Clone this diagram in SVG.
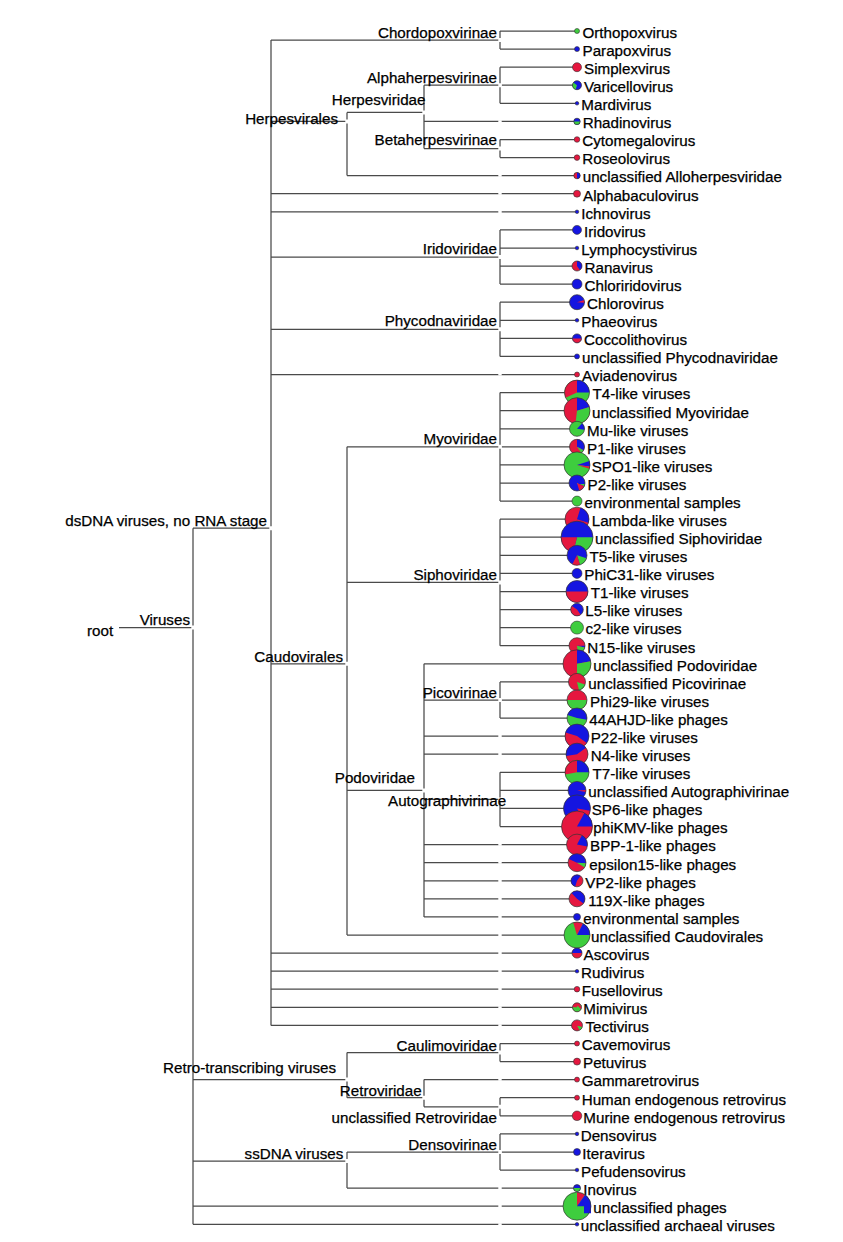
<svg xmlns="http://www.w3.org/2000/svg" width="843" height="1242" viewBox="0 0 843 1242">
<style>
.ln{fill:none;stroke:#4a4a4a;stroke-width:1.25}
.gp{fill:#fff}
text{font-family:"Liberation Sans",Arial,sans-serif;font-size:15.2px;fill:#000;stroke:#000;stroke-width:0.25}
.e{text-anchor:end}
.R{fill:#e5173f}.B{fill:#1515e0}.G{fill:#3ecd3e}
.d{stroke:#333;stroke-width:0.6}
.s{fill:none}.sR{stroke:#e5173f}.sB{stroke:#1515e0}.sG{stroke:#3ecd3e}
.o{fill:none;stroke:#333;stroke-width:0.7}
</style>
<rect width="843" height="1242" fill="#fff"/>
<g id="connectors">
<g class="ln">
<path d="M119 627.6H193M193 528.2V1224.3M193 528.2H271M193 1079.6H347M193 1161.1H347M193 1206.2H577M193 1224.3H577"/>
<path d="M271 40V1025.4M271 40H500M271 121.4H347M271 193.7H577M271 211.8H577M271 257H500M271 329.3H500M271 374.5H577M271 663.8H347M271 953.1H577M271 971.2H577M271 989.2H577M271 1007.3H577M271 1025.4H577"/>
<path d="M500 31V49.1M500 31H577M500 49.1H577"/>
<path d="M347 112.4V175.6M347 112.4H424M347 175.6H577M424 85.2V148.5M424 85.2H500M424 121.4H577M424 148.5H500"/>
<path d="M500 67.2V103.3M500 67.2H577M500 85.2H577M500 103.3H577M500 139.5V157.6M500 139.5H577M500 157.6H577"/>
<path d="M500 229.9V284.1M500 229.9H577M500 248H577M500 266H577M500 284.1H577M500 302.2V356.4M500 302.2H577M500 320.3H577M500 338.4H577M500 356.4H577"/>
<path d="M347 446.8V935M347 446.8H500M347 582.4H500M347 790.4H424M347 935H577"/>
<path d="M500 392.6V501.1M500 392.6H577M500 410.7H577M500 428.8H577M500 446.8H577M500 464.9H577M500 483H577M500 501.1H577"/>
<path d="M500 519.2V645.7M500 519.2H577M500 537.2H577M500 555.3H577M500 573.4H577M500 591.5H577M500 609.6H577M500 627.6H577M500 645.7H577"/>
<path d="M424 663.8V916.9M424 663.8H577M424 700H500M424 736.1H577M424 754.2H577M424 799.4H500M424 844.6H577M424 862.7H577M424 880.8H577M424 898.8H577M424 916.9H577"/>
<path d="M500 681.9V718M500 681.9H577M500 700H577M500 718H577M500 772.3V826.5M500 772.3H577M500 790.4H577M500 808.4H577M500 826.5H577"/>
<path d="M347 1052.5V1097.7M347 1052.5H500M347 1097.7H424M500 1043.5V1061.6M500 1043.5H577M500 1061.6H577M424 1079.6V1106.8M424 1079.6H577M424 1106.8H500M500 1097.7V1115.8M500 1097.7H577M500 1115.8H577"/>
<path d="M347 1152V1188.1M347 1152H500M347 1188.1H577M500 1133.9V1170M500 1133.9H577M500 1152H577M500 1170H577"/>
</g>
<path class="gp" d="M498.3 120.3h3.4v2.2h-3.4zM498.3 174.5h3.4v2.2h-3.4zM498.3 192.6h3.4v2.2h-3.4zM498.3 210.7h3.4v2.2h-3.4zM498.3 373.4h3.4v2.2h-3.4zM498.3 735h3.4v2.2h-3.4zM498.3 753.1h3.4v2.2h-3.4zM498.3 843.5h3.4v2.2h-3.4zM498.3 861.6h3.4v2.2h-3.4zM498.3 879.7h3.4v2.2h-3.4zM498.3 897.7h3.4v2.2h-3.4zM498.3 915.8h3.4v2.2h-3.4zM498.3 933.9h3.4v2.2h-3.4zM498.3 952h3.4v2.2h-3.4zM498.3 970.1h3.4v2.2h-3.4zM498.3 988.1h3.4v2.2h-3.4zM498.3 1006.2h3.4v2.2h-3.4zM498.3 1024.3h3.4v2.2h-3.4zM498.3 1078.5h3.4v2.2h-3.4zM498.3 1187h3.4v2.2h-3.4zM498.3 1205.1h3.4v2.2h-3.4zM498.3 1223.2h3.4v2.2h-3.4z"/>
<path class="gp" d="M498.3 38h3.6v4h-3.6zM345.3 119.4h3.6v4h-3.6zM422.3 110.4h3.6v4h-3.6zM498.3 83.2h3.6v4h-3.6zM498.3 146.5h3.6v4h-3.6zM498.3 255h3.6v4h-3.6zM498.3 327.3h3.6v4h-3.6zM345.3 661.8h3.6v4h-3.6zM498.3 444.8h3.6v4h-3.6zM498.3 580.4h3.6v4h-3.6zM422.3 788.4h3.6v4h-3.6zM498.3 698h3.6v4h-3.6zM498.3 797.4h3.6v4h-3.6zM345.3 1077.6h3.6v4h-3.6zM498.3 1050.5h3.6v4h-3.6zM422.3 1095.7h3.6v4h-3.6zM498.3 1104.8h3.6v4h-3.6zM345.3 1159.1h3.6v4h-3.6zM498.3 1150h3.6v4h-3.6zM191.3 625.6h3.6v4h-3.6zM269.3 526.2h3.6v4h-3.6z"/>
</g>
<g id="n-root"><text x="87" y="636">root</text></g>
<g id="n-viruses"><text class="e" x="190" y="625">Viruses</text></g>
<g id="n-dsdna"><text class="e" x="267" y="526">dsDNA viruses, no RNA stage</text></g>
<g id="n-chordopoxvirinae"><text class="e" x="497" y="37.5">Chordopoxvirinae</text></g>
<g id="n-herpesvirales"><text class="e" x="338" y="124">Herpesvirales</text></g>
<g id="n-herpesviridae"><text class="e" x="425.5" y="105">Herpesviridae</text></g>
<g id="n-alphaherpesvirinae"><text class="e" x="497" y="82.7">Alphaherpesvirinae</text></g>
<g id="n-betaherpesvirinae"><text class="e" x="497" y="145">Betaherpesvirinae</text></g>
<g id="n-iridoviridae"><text class="e" x="497" y="254">Iridoviridae</text></g>
<g id="n-phycodnaviridae"><text class="e" x="497" y="326">Phycodnaviridae</text></g>
<g id="n-caudovirales"><text class="e" x="343" y="661.5">Caudovirales</text></g>
<g id="n-myoviridae"><text class="e" x="497" y="443.5">Myoviridae</text></g>
<g id="n-siphoviridae"><text class="e" x="497" y="579.5">Siphoviridae</text></g>
<g id="n-podoviridae"><text class="e" x="415" y="783">Podoviridae</text></g>
<g id="n-picovirinae"><text class="e" x="497" y="698">Picovirinae</text></g>
<g id="n-autographivirinae"><text x="388" y="806">Autographivirinae</text></g>
<g id="n-retrotranscribing"><text x="163" y="1073">Retro-transcribing viruses</text></g>
<g id="n-caulimoviridae"><text class="e" x="497" y="1050.5">Caulimoviridae</text></g>
<g id="n-retroviridae"><text class="e" x="421.7" y="1096">Retroviridae</text></g>
<g id="n-unclassified-retroviridae"><text class="e" x="497" y="1123">unclassified Retroviridae</text></g>
<g id="n-ssdna"><text class="e" x="343.3" y="1159">ssDNA viruses</text></g>
<g id="n-densovirinae"><text class="e" x="497" y="1150">Densovirinae</text></g>

<g id="l-orthopoxvirus"><circle class="G d" cx="577" cy="31" r="2.5"/><text x="582.5" y="37.8">Orthopoxvirus</text></g>
<g id="l-parapoxvirus"><circle class="B d" cx="577" cy="49.1" r="2.5"/><text x="582.5" y="55.9">Parapoxvirus</text></g>
<g id="l-simplexvirus"><circle class="R d" cx="577" cy="67.2" r="4.5"/><text x="584" y="74">Simplexvirus</text></g>
<g id="l-varicellovirus"><circle class="B" cx="577" cy="85.2" r="4.5"/><circle class="s sG" cx="577" cy="85.2" r="2.25" stroke-width="4.5" pathLength="100" stroke-dasharray="30 100" stroke-dashoffset="-55" transform="rotate(-90 577 85.2)"/><circle class="o" cx="577" cy="85.2" r="4.5"/><text x="584" y="92">Varicellovirus</text></g>
<g id="l-mardivirus"><circle class="B d" cx="577" cy="103.3" r="1.8"/><text x="581.3" y="110.1">Mardivirus</text></g>
<g id="l-rhadinovirus"><circle class="B" cx="577" cy="121.4" r="3.2"/><circle class="s sG" cx="577" cy="121.4" r="1.6" stroke-width="3.2" pathLength="100" stroke-dasharray="50 100" stroke-dashoffset="-25" transform="rotate(-90 577 121.4)"/><circle class="o" cx="577" cy="121.4" r="3.2"/><text x="582.7" y="128.2">Rhadinovirus</text></g>
<g id="l-cytomegalovirus"><circle class="R d" cx="577" cy="139.5" r="2.8"/><text x="582.3" y="146.3">Cytomegalovirus</text></g>
<g id="l-roseolovirus"><circle class="R d" cx="577" cy="157.6" r="2.8"/><text x="582.3" y="164.4">Roseolovirus</text></g>
<g id="l-unclassified-alloherpesviridae"><circle class="R" cx="577" cy="175.6" r="3.2"/><circle class="s sB" cx="577" cy="175.6" r="1.6" stroke-width="3.2" pathLength="100" stroke-dasharray="50 100" stroke-dashoffset="0" transform="rotate(-90 577 175.6)"/><circle class="o" cx="577" cy="175.6" r="3.2"/><text x="582.7" y="182.4">unclassified Alloherpesviridae</text></g>
<g id="l-alphabaculovirus"><circle class="R d" cx="577" cy="193.7" r="3.5"/><text x="583" y="200.5">Alphabaculovirus</text></g>
<g id="l-ichnovirus"><circle class="B d" cx="577" cy="211.8" r="1.8"/><text x="581.3" y="218.6">Ichnovirus</text></g>
<g id="l-iridovirus"><circle class="B d" cx="577" cy="229.9" r="4.5"/><text x="584" y="236.7">Iridovirus</text></g>
<g id="l-lymphocystivirus"><circle class="B d" cx="577" cy="248" r="1.8"/><text x="581.3" y="254.8">Lymphocystivirus</text></g>
<g id="l-ranavirus"><circle class="R" cx="577" cy="266" r="5"/><circle class="s sB" cx="577" cy="266" r="2.5" stroke-width="5" pathLength="100" stroke-dasharray="40 100" stroke-dashoffset="0" transform="rotate(-90 577 266)"/><circle class="o" cx="577" cy="266" r="5"/><text x="584.5" y="272.8">Ranavirus</text></g>
<g id="l-chloriridovirus"><circle class="B d" cx="577" cy="284.1" r="5"/><text x="584.5" y="290.9">Chloriridovirus</text></g>
<g id="l-chlorovirus"><circle class="B" cx="577" cy="302.2" r="7.5"/><circle class="s sR" cx="577" cy="302.2" r="3.75" stroke-width="7.5" pathLength="100" stroke-dasharray="6 100" stroke-dashoffset="-20" transform="rotate(-90 577 302.2)"/><circle class="o" cx="577" cy="302.2" r="7.5"/><text x="587" y="309">Chlorovirus</text></g>
<g id="l-phaeovirus"><circle class="B d" cx="577" cy="320.3" r="1.8"/><text x="581.3" y="327.1">Phaeovirus</text></g>
<g id="l-coccolithovirus"><circle class="B" cx="577" cy="338.4" r="4.5"/><circle class="s sR" cx="577" cy="338.4" r="2.25" stroke-width="4.5" pathLength="100" stroke-dasharray="50 100" stroke-dashoffset="-25" transform="rotate(-90 577 338.4)"/><circle class="o" cx="577" cy="338.4" r="4.5"/><text x="584" y="345.2">Coccolithovirus</text></g>
<g id="l-unclassified-phycodnaviridae"><circle class="B d" cx="577" cy="356.4" r="2.5"/><text x="582" y="363.2">unclassified Phycodnaviridae</text></g>
<g id="l-aviadenovirus"><circle class="R d" cx="577" cy="374.5" r="2.5"/><text x="582" y="381.3">Aviadenovirus</text></g>
<g id="l-t4-like"><circle class="G" cx="577" cy="392.6" r="12.5"/><circle class="s sB" cx="577" cy="392.6" r="6.25" stroke-width="12.5" pathLength="100" stroke-dasharray="25 100" stroke-dashoffset="0" transform="rotate(-90 577 392.6)"/><circle class="s sR" cx="577" cy="392.6" r="6.25" stroke-width="12.5" pathLength="100" stroke-dasharray="32 100" stroke-dashoffset="-68" transform="rotate(-90 577 392.6)"/><circle class="o" cx="577" cy="392.6" r="12.5"/><text x="592.5" y="399.4">T4-like viruses</text></g>
<g id="l-unclassified-myoviridae"><circle class="R" cx="577" cy="410.7" r="13"/><circle class="s sB" cx="577" cy="410.7" r="6.5" stroke-width="13" pathLength="100" stroke-dasharray="20 100" stroke-dashoffset="0" transform="rotate(-90 577 410.7)"/><circle class="s sG" cx="577" cy="410.7" r="6.5" stroke-width="13" pathLength="100" stroke-dasharray="32 100" stroke-dashoffset="-20" transform="rotate(-90 577 410.7)"/><circle class="o" cx="577" cy="410.7" r="13"/><text x="592" y="417.5">unclassified Myoviridae</text></g>
<g id="l-mu-like"><circle class="G" cx="577" cy="428.8" r="7.5"/><circle class="s sB" cx="577" cy="428.8" r="3.75" stroke-width="7.5" pathLength="100" stroke-dasharray="15 100" stroke-dashoffset="-12" transform="rotate(-90 577 428.8)"/><circle class="o" cx="577" cy="428.8" r="7.5"/><text x="587" y="435.6">Mu-like viruses</text></g>
<g id="l-p1-like"><circle class="R" cx="577" cy="446.8" r="7.5"/><circle class="s sB" cx="577" cy="446.8" r="3.75" stroke-width="7.5" pathLength="100" stroke-dasharray="33 100" stroke-dashoffset="0" transform="rotate(-90 577 446.8)"/><circle class="s sG" cx="577" cy="446.8" r="3.75" stroke-width="7.5" pathLength="100" stroke-dasharray="7 100" stroke-dashoffset="-33" transform="rotate(-90 577 446.8)"/><circle class="o" cx="577" cy="446.8" r="7.5"/><text x="587" y="453.6">P1-like viruses</text></g>
<g id="l-spo1-like"><circle class="G" cx="577" cy="464.9" r="13"/><circle class="s sB" cx="577" cy="464.9" r="6.5" stroke-width="13" pathLength="100" stroke-dasharray="7 100" stroke-dashoffset="-20" transform="rotate(-90 577 464.9)"/><circle class="s sR" cx="577" cy="464.9" r="6.5" stroke-width="13" pathLength="100" stroke-dasharray="3 100" stroke-dashoffset="-27" transform="rotate(-90 577 464.9)"/><circle class="o" cx="577" cy="464.9" r="13"/><text x="591.7" y="471.7">SPO1-like viruses</text></g>
<g id="l-p2-like"><circle class="B" cx="577" cy="483" r="8"/><circle class="s sG" cx="577" cy="483" r="4" stroke-width="8" pathLength="100" stroke-dasharray="5 100" stroke-dashoffset="-27" transform="rotate(-90 577 483)"/><circle class="s sR" cx="577" cy="483" r="4" stroke-width="8" pathLength="100" stroke-dasharray="13 100" stroke-dashoffset="-32" transform="rotate(-90 577 483)"/><circle class="o" cx="577" cy="483" r="8"/><text x="587.5" y="489.8">P2-like viruses</text></g>
<g id="l-myo-environmental-samples"><circle class="G d" cx="577" cy="501.1" r="5"/><text x="584.5" y="507.9">environmental samples</text></g>
<g id="l-lambda-like"><circle class="R" cx="577" cy="519.2" r="12"/><circle class="s sB" cx="577" cy="519.2" r="6" stroke-width="12" pathLength="100" stroke-dasharray="25 100" stroke-dashoffset="-5" transform="rotate(-90 577 519.2)"/><circle class="o" cx="577" cy="519.2" r="12"/><text x="591.7" y="526">Lambda-like viruses</text></g>
<g id="l-unclassified-siphoviridae"><circle class="B" cx="577" cy="537.2" r="16"/><circle class="s sG" cx="577" cy="537.2" r="8" stroke-width="16" pathLength="100" stroke-dasharray="29 100" stroke-dashoffset="-25" transform="rotate(-90 577 537.2)"/><circle class="s sR" cx="577" cy="537.2" r="8" stroke-width="16" pathLength="100" stroke-dasharray="21 100" stroke-dashoffset="-54" transform="rotate(-90 577 537.2)"/><circle class="o" cx="577" cy="537.2" r="16"/><text x="595" y="544">unclassified Siphoviridae</text></g>
<g id="l-t5-like"><circle class="B" cx="577" cy="555.3" r="10"/><circle class="s sG" cx="577" cy="555.3" r="5" stroke-width="10" pathLength="100" stroke-dasharray="15 100" stroke-dashoffset="-30" transform="rotate(-90 577 555.3)"/><circle class="s sR" cx="577" cy="555.3" r="5" stroke-width="10" pathLength="100" stroke-dasharray="13 100" stroke-dashoffset="-45" transform="rotate(-90 577 555.3)"/><circle class="o" cx="577" cy="555.3" r="10"/><text x="589.5" y="562.1">T5-like viruses</text></g>
<g id="l-phic31-like"><circle class="B d" cx="577" cy="573.4" r="5"/><text x="584.3" y="580.2">PhiC31-like viruses</text></g>
<g id="l-t1-like"><circle class="B" cx="577" cy="591.5" r="11"/><circle class="s sR" cx="577" cy="591.5" r="5.5" stroke-width="11" pathLength="100" stroke-dasharray="50 100" stroke-dashoffset="-25" transform="rotate(-90 577 591.5)"/><circle class="o" cx="577" cy="591.5" r="11"/><text x="590.7" y="598.3">T1-like viruses</text></g>
<g id="l-l5-like"><circle class="B" cx="577" cy="609.6" r="6.3"/><circle class="s sR" cx="577" cy="609.6" r="3.15" stroke-width="6.3" pathLength="100" stroke-dasharray="45 100" stroke-dashoffset="-40" transform="rotate(-90 577 609.6)"/><circle class="o" cx="577" cy="609.6" r="6.3"/><text x="585.3" y="616.4">L5-like viruses</text></g>
<g id="l-c2-like"><circle class="G d" cx="577" cy="627.6" r="6.5"/><text x="585.5" y="634.4">c2-like viruses</text></g>
<g id="l-n15-like"><circle class="R" cx="577" cy="645.7" r="8"/><circle class="s sB" cx="577" cy="645.7" r="4" stroke-width="8" pathLength="100" stroke-dasharray="4 100" stroke-dashoffset="-25" transform="rotate(-90 577 645.7)"/><circle class="s sG" cx="577" cy="645.7" r="4" stroke-width="8" pathLength="100" stroke-dasharray="19 100" stroke-dashoffset="-29" transform="rotate(-90 577 645.7)"/><circle class="o" cx="577" cy="645.7" r="8"/><text x="587.3" y="652.5">N15-like viruses</text></g>
<g id="l-unclassified-podoviridae"><circle class="R" cx="577" cy="663.8" r="14"/><circle class="s sB" cx="577" cy="663.8" r="7" stroke-width="14" pathLength="100" stroke-dasharray="22 100" stroke-dashoffset="0" transform="rotate(-90 577 663.8)"/><circle class="s sG" cx="577" cy="663.8" r="7" stroke-width="14" pathLength="100" stroke-dasharray="28 100" stroke-dashoffset="-22" transform="rotate(-90 577 663.8)"/><circle class="o" cx="577" cy="663.8" r="14"/><text x="593.3" y="670.6">unclassified Podoviridae</text></g>
<g id="l-unclassified-picovirinae"><circle class="R" cx="577" cy="681.9" r="8.5"/><circle class="s sG" cx="577" cy="681.9" r="4.25" stroke-width="8.5" pathLength="100" stroke-dasharray="16 100" stroke-dashoffset="-30" transform="rotate(-90 577 681.9)"/><circle class="o" cx="577" cy="681.9" r="8.5"/><text x="588.3" y="688.7">unclassified Picovirinae</text></g>
<g id="l-phi29-like"><circle class="R" cx="577" cy="700" r="10"/><circle class="s sG" cx="577" cy="700" r="5" stroke-width="10" pathLength="100" stroke-dasharray="50 100" stroke-dashoffset="-25" transform="rotate(-90 577 700)"/><circle class="o" cx="577" cy="700" r="10"/><text x="590" y="706.8">Phi29-like viruses</text></g>
<g id="l-44ahjd-like"><circle class="G" cx="577" cy="718" r="10"/><circle class="s sB" cx="577" cy="718" r="5" stroke-width="10" pathLength="100" stroke-dasharray="28 100" stroke-dashoffset="0" transform="rotate(-90 577 718)"/><circle class="s sB" cx="577" cy="718" r="5" stroke-width="10" pathLength="100" stroke-dasharray="20 100" stroke-dashoffset="-80" transform="rotate(-90 577 718)"/><circle class="o" cx="577" cy="718" r="10"/><text x="589.3" y="724.8">44AHJD-like phages</text></g>
<g id="l-p22-like"><circle class="B" cx="577" cy="736.1" r="12"/><circle class="s sR" cx="577" cy="736.1" r="6" stroke-width="12" pathLength="100" stroke-dasharray="45 100" stroke-dashoffset="-35" transform="rotate(-90 577 736.1)"/><circle class="o" cx="577" cy="736.1" r="12"/><text x="590.7" y="742.9">P22-like viruses</text></g>
<g id="l-n4-like"><circle class="R" cx="577" cy="754.2" r="11"/><circle class="s sB" cx="577" cy="754.2" r="5.5" stroke-width="11" pathLength="100" stroke-dasharray="15 100" stroke-dashoffset="0" transform="rotate(-90 577 754.2)"/><circle class="s sB" cx="577" cy="754.2" r="5.5" stroke-width="11" pathLength="100" stroke-dasharray="28 100" stroke-dashoffset="-72" transform="rotate(-90 577 754.2)"/><circle class="o" cx="577" cy="754.2" r="11"/><text x="590.7" y="761">N4-like viruses</text></g>
<g id="l-t7-like"><circle class="G" cx="577" cy="772.3" r="12"/><circle class="s sB" cx="577" cy="772.3" r="6" stroke-width="12" pathLength="100" stroke-dasharray="25 100" stroke-dashoffset="0" transform="rotate(-90 577 772.3)"/><circle class="s sR" cx="577" cy="772.3" r="6" stroke-width="12" pathLength="100" stroke-dasharray="28 100" stroke-dashoffset="-72" transform="rotate(-90 577 772.3)"/><circle class="o" cx="577" cy="772.3" r="12"/><text x="592.5" y="779.1">T7-like viruses</text></g>
<g id="l-unclassified-autographivirinae"><circle class="B" cx="577" cy="790.4" r="9"/><circle class="s sR" cx="577" cy="790.4" r="4.5" stroke-width="9" pathLength="100" stroke-dasharray="4 100" stroke-dashoffset="-24" transform="rotate(-90 577 790.4)"/><circle class="o" cx="577" cy="790.4" r="9"/><text x="588.3" y="797.2">unclassified Autographivirinae</text></g>
<g id="l-sp6-like"><circle class="B" cx="577" cy="808.4" r="13.5"/><circle class="s sR" cx="577" cy="808.4" r="6.75" stroke-width="13.5" pathLength="100" stroke-dasharray="14 100" stroke-dashoffset="-28" transform="rotate(-90 577 808.4)"/><circle class="o" cx="577" cy="808.4" r="13.5"/><text x="591.7" y="815.2">SP6-like phages</text></g>
<g id="l-phikmv-like"><circle class="R" cx="577" cy="826.5" r="15.5"/><circle class="s sB" cx="577" cy="826.5" r="7.75" stroke-width="15.5" pathLength="100" stroke-dasharray="17 100" stroke-dashoffset="-8" transform="rotate(-90 577 826.5)"/><circle class="o" cx="577" cy="826.5" r="15.5"/><text x="593.3" y="833.3">phiKMV-like phages</text></g>
<g id="l-bpp1-like"><circle class="R" cx="577" cy="844.6" r="10.5"/><circle class="s sB" cx="577" cy="844.6" r="5.25" stroke-width="10.5" pathLength="100" stroke-dasharray="20 100" stroke-dashoffset="-8" transform="rotate(-90 577 844.6)"/><circle class="o" cx="577" cy="844.6" r="10.5"/><text x="590" y="851.4">BPP-1-like phages</text></g>
<g id="l-epsilon15-like"><circle class="R" cx="577" cy="862.7" r="9"/><circle class="s sB" cx="577" cy="862.7" r="4.5" stroke-width="9" pathLength="100" stroke-dasharray="26 100" stroke-dashoffset="0" transform="rotate(-90 577 862.7)"/><circle class="s sG" cx="577" cy="862.7" r="4.5" stroke-width="9" pathLength="100" stroke-dasharray="8 100" stroke-dashoffset="-26" transform="rotate(-90 577 862.7)"/><circle class="s sB" cx="577" cy="862.7" r="4.5" stroke-width="9" pathLength="100" stroke-dasharray="18 100" stroke-dashoffset="-82" transform="rotate(-90 577 862.7)"/><circle class="o" cx="577" cy="862.7" r="9"/><text x="589.3" y="869.5">epsilon15-like phages</text></g>
<g id="l-vp2-like"><circle class="R" cx="577" cy="880.8" r="6"/><circle class="s sB" cx="577" cy="880.8" r="3" stroke-width="6" pathLength="100" stroke-dasharray="10 100" stroke-dashoffset="0" transform="rotate(-90 577 880.8)"/><circle class="s sB" cx="577" cy="880.8" r="3" stroke-width="6" pathLength="100" stroke-dasharray="45 100" stroke-dashoffset="-55" transform="rotate(-90 577 880.8)"/><circle class="o" cx="577" cy="880.8" r="6"/><text x="585.3" y="887.6">VP2-like phages</text></g>
<g id="l-119x-like"><circle class="R" cx="577" cy="898.8" r="8"/><circle class="s sB" cx="577" cy="898.8" r="4" stroke-width="8" pathLength="100" stroke-dasharray="35 100" stroke-dashoffset="0" transform="rotate(-90 577 898.8)"/><circle class="s sB" cx="577" cy="898.8" r="4" stroke-width="8" pathLength="100" stroke-dasharray="12 100" stroke-dashoffset="-88" transform="rotate(-90 577 898.8)"/><circle class="o" cx="577" cy="898.8" r="8"/><text x="588.3" y="905.6">119X-like phages</text></g>
<g id="l-podo-environmental-samples"><circle class="B d" cx="577" cy="916.9" r="3.5"/><text x="583.3" y="923.7">environmental samples</text></g>
<g id="l-unclassified-caudovirales"><circle class="G" cx="577" cy="935" r="13"/><circle class="s sR" cx="577" cy="935" r="6.5" stroke-width="13" pathLength="100" stroke-dasharray="8 100" stroke-dashoffset="0" transform="rotate(-90 577 935)"/><circle class="s sB" cx="577" cy="935" r="6.5" stroke-width="13" pathLength="100" stroke-dasharray="17 100" stroke-dashoffset="-8" transform="rotate(-90 577 935)"/><circle class="s sR" cx="577" cy="935" r="6.5" stroke-width="13" pathLength="100" stroke-dasharray="5 100" stroke-dashoffset="-95" transform="rotate(-90 577 935)"/><circle class="o" cx="577" cy="935" r="13"/><text x="591" y="941.8">unclassified Caudovirales</text></g>
<g id="l-ascovirus"><circle class="R" cx="577" cy="953.1" r="5"/><circle class="s sB" cx="577" cy="953.1" r="2.5" stroke-width="5" pathLength="100" stroke-dasharray="25 100" stroke-dashoffset="0" transform="rotate(-90 577 953.1)"/><circle class="s sB" cx="577" cy="953.1" r="2.5" stroke-width="5" pathLength="100" stroke-dasharray="25 100" stroke-dashoffset="-75" transform="rotate(-90 577 953.1)"/><circle class="o" cx="577" cy="953.1" r="5"/><text x="583.5" y="959.9">Ascovirus</text></g>
<g id="l-rudivirus"><circle class="B d" cx="577" cy="971.2" r="1.8"/><text x="581" y="978">Rudivirus</text></g>
<g id="l-fusellovirus"><circle class="R d" cx="577" cy="989.2" r="2.8"/><text x="581.7" y="996">Fusellovirus</text></g>
<g id="l-mimivirus"><circle class="R" cx="577" cy="1007.3" r="4.5"/><circle class="s sG" cx="577" cy="1007.3" r="2.25" stroke-width="4.5" pathLength="100" stroke-dasharray="50 100" stroke-dashoffset="-25" transform="rotate(-90 577 1007.3)"/><circle class="o" cx="577" cy="1007.3" r="4.5"/><text x="583.3" y="1014.1">Mimivirus</text></g>
<g id="l-tectivirus"><circle class="R" cx="577" cy="1025.4" r="5.5"/><circle class="s sG" cx="577" cy="1025.4" r="2.75" stroke-width="5.5" pathLength="100" stroke-dasharray="12 100" stroke-dashoffset="-30" transform="rotate(-90 577 1025.4)"/><circle class="o" cx="577" cy="1025.4" r="5.5"/><text x="585.5" y="1032.2">Tectivirus</text></g>
<g id="l-cavemovirus"><circle class="R d" cx="577" cy="1043.5" r="2.5"/><text x="581.7" y="1050.3">Cavemovirus</text></g>
<g id="l-petuvirus"><circle class="R d" cx="577" cy="1061.6" r="3.5"/><text x="583" y="1068.4">Petuvirus</text></g>
<g id="l-gammaretrovirus"><circle class="R d" cx="577" cy="1079.6" r="2.5"/><text x="581.7" y="1086.4">Gammaretrovirus</text></g>
<g id="l-human-endogenous-retrovirus"><circle class="R d" cx="577" cy="1097.7" r="2.5"/><text x="581.7" y="1104.5">Human endogenous retrovirus</text></g>
<g id="l-murine-endogenous-retrovirus"><circle class="R d" cx="577" cy="1115.8" r="4.8"/><text x="583.3" y="1122.6">Murine endogenous retrovirus</text></g>
<g id="l-densovirus"><circle class="B d" cx="577" cy="1133.9" r="1.8"/><text x="580.7" y="1140.7">Densovirus</text></g>
<g id="l-iteravirus"><circle class="B d" cx="577" cy="1152" r="3.5"/><text x="582.3" y="1158.8">Iteravirus</text></g>
<g id="l-pefudensovirus"><circle class="B d" cx="577" cy="1170" r="1.8"/><text x="581" y="1176.8">Pefudensovirus</text></g>
<g id="l-inovirus"><circle class="B" cx="577" cy="1188.1" r="3.5"/><circle class="s sG" cx="577" cy="1188.1" r="1.75" stroke-width="3.5" pathLength="100" stroke-dasharray="50 100" stroke-dashoffset="-25" transform="rotate(-90 577 1188.1)"/><circle class="o" cx="577" cy="1188.1" r="3.5"/><text x="583.3" y="1194.9">Inovirus</text></g>
<g id="l-unclassified-phages"><circle class="G" cx="577" cy="1206.2" r="14"/><circle class="s sR" cx="577" cy="1206.2" r="7" stroke-width="14" pathLength="100" stroke-dasharray="10 100" stroke-dashoffset="0" transform="rotate(-90 577 1206.2)"/><circle class="s sB" cx="577" cy="1206.2" r="7" stroke-width="14" pathLength="100" stroke-dasharray="15 100" stroke-dashoffset="-10" transform="rotate(-90 577 1206.2)"/><circle class="o" cx="577" cy="1206.2" r="14"/><text x="593.3" y="1213">unclassified phages</text></g>
<g id="l-unclassified-archaeal-viruses"><circle class="B d" cx="577" cy="1224.3" r="1.8"/><text x="580.7" y="1231.1">unclassified archaeal viruses</text></g>
</svg>
